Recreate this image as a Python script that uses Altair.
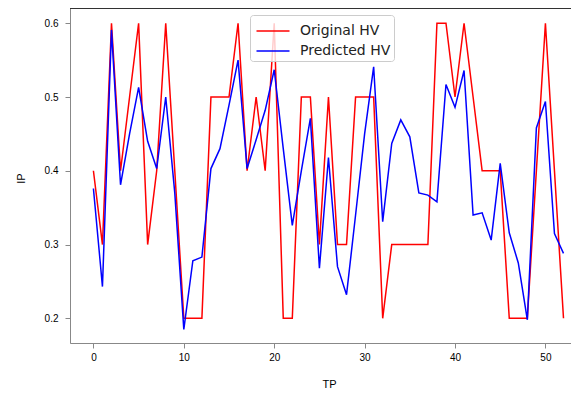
import altair as alt
import pandas as pd

tp = list(range(53))
original_hv = [0.4, 0.3, 0.6, 0.4, 0.5, 0.6, 0.3, 0.4, 0.6, 0.4,
               0.2, 0.2, 0.2, 0.5, 0.5, 0.5, 0.6, 0.4, 0.5, 0.4,
               0.6, 0.2, 0.2, 0.5, 0.5, 0.3, 0.5, 0.3, 0.3, 0.5,
               0.5, 0.5, 0.2, 0.3, 0.3, 0.3, 0.3, 0.3, 0.6, 0.6,
               0.5, 0.6, 0.5, 0.4, 0.4, 0.4, 0.2, 0.2, 0.2, 0.4,
               0.6, 0.4, 0.2]
predicted_hv = [0.376, 0.243, 0.591, 0.381, 0.45, 0.513, 0.44, 0.403, 0.5, 0.37,
                0.185, 0.278, 0.283, 0.403, 0.43, 0.489, 0.55, 0.403, 0.442, 0.482,
                0.537, 0.43, 0.326, 0.40, 0.471, 0.268, 0.418, 0.27, 0.232, 0.34,
                0.45, 0.541, 0.331, 0.437, 0.469, 0.446, 0.37, 0.367, 0.358, 0.517,
                0.486, 0.536, 0.34, 0.343, 0.306, 0.41, 0.316, 0.275, 0.198, 0.458,
                0.494, 0.315, 0.288]
series_names = ["Original HV", "Predicted HV"]
series_colors = ["red", "blue"]
x_ticks = [0, 10, 20, 30, 40, 50]
y_ticks = [0.2, 0.3, 0.4, 0.5, 0.6]

df = pd.concat([
    pd.DataFrame({"TP": tp, "IP": original_hv, "series": series_names[0]}),
    pd.DataFrame({"TP": tp, "IP": predicted_hv, "series": series_names[1]}),
])

W, H = 501, 335
FONT = "DejaVu Sans"

lines = alt.Chart(df).mark_line(strokeWidth=1.5, clip=True).encode(
    x=alt.X("TP:Q",
            scale=alt.Scale(domain=[-2.59, 52.83], nice=False, zero=False),
            axis=alt.Axis(values=x_ticks, title="TP", titleX=259, titleY=41,
                          titleBaseline="middle", labelPadding=4, grid=False,
                          titleFontWeight="normal")),
    y=alt.Y("IP:Q",
            scale=alt.Scale(domain=[0.1665, 0.6207], nice=False, zero=False),
            axis=alt.Axis(values=y_ticks, format=".1f", title="IP",
                          titleX=-49, titleY=170, titleAngle=-90,
                          titleBaseline="middle", labelPadding=7, grid=False,
                          titleFontWeight="normal")),
    color=alt.Color("series:N",
                    scale=alt.Scale(domain=series_names, range=series_colors),
                    legend=alt.Legend(title=None, orient="none",
                                      legendX=180, legendY=7,
                                      symbolType="M-1.375,0H1.375",
                                      symbolSize=576, symbolStrokeWidth=1.5,
                                      symbolOffset=7, labelOffset=14,
                                      padding=3, rowPadding=0,
                                      fillColor="rgba(255,255,255,0.8)",
                                      strokeColor="#cccccc", cornerRadius=3,
                                      labelFontSize=14, labelFont=FONT,
                                      labelColor="#222")),
)

top_border = alt.Chart(df).mark_rule(color="#333", strokeWidth=1).encode(
    x=alt.value(0), x2=alt.value(W), y=alt.value(0)
)

chart = alt.layer(lines, top_border).properties(
    width=W, height=H,
    autosize=alt.AutoSizeParams(type="none"),
    padding={"left": 62, "top": 0, "right": 0, "bottom": 50},
).configure_view(strokeWidth=0, strokeOpacity=0).configure_axis(
    grid=False, domainColor="#333", tickColor="#333", tickSize=5,
    labelFont=FONT, labelFontSize=14, labelColor="#222",
    titleFont=FONT, titleFontSize=14, titleFontWeight="normal", titleColor="#222",
).configure(background="white")

chart.save("out.html", embed_options={"renderer": "svg", "actions": False})
